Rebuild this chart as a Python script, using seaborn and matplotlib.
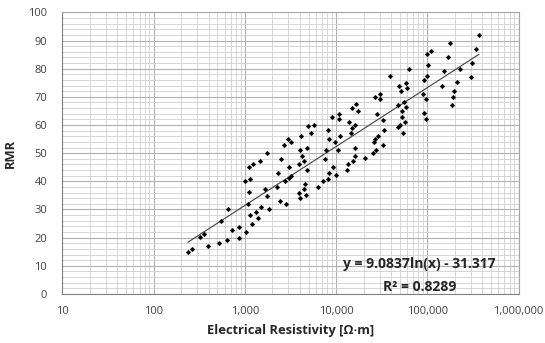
import numpy as np
import pandas as pd
import seaborn as sns
import matplotlib
matplotlib.use('Agg')
import matplotlib.pyplot as plt
from matplotlib.ticker import FixedLocator, LogLocator, MultipleLocator, NullFormatter

# Data: electrical resistivity [ohm-m] vs RMR
resistivity = [237, 264, 320, 357, 392, 521, 633, 553, 649, 724, 857, 871,
               1020, 1190, 1010, 1150, 1110, 1240, 1460, 1740, 1120, 1070,
               1130, 1340, 1400, 1520, 1860, 1650, 1740, 2260, 2300, 2410,
               2510, 2850, 2760, 3030, 3030, 3210, 2690, 3000, 3190, 4160,
               4030, 4270, 4420, 3930, 4850, 4930, 5280, 5740, 4850, 3960,
               4460, 4570, 4060, 4690, 6400, 7200, 8110, 9340, 9920, 7630,
               8380, 7830, 9040, 10700, 10700, 8230, 9750, 10400, 13100, 13600,
               15200, 16200, 16200, 13800, 14600, 16200, 14900, 16600, 17400, 20800,
               25300, 27200, 26300, 26600, 29100, 32500, 33600, 28200, 32500, 27000,
               30200, 30200, 38800, 48200, 52900, 56100, 52500, 56400, 48200, 49700,
               53900, 59000, 48700, 51200, 58600, 59600, 63600, 92200, 100000,
               89900, 97000, 92200, 97800, 102000, 8440, 10900, 14900, 98700, 109000,
               367000, 179000, 343000, 168000, 310000, 153000, 227000, 300000,
               212000, 146000, 197000, 193000, 187000]
rmr = [14.9, 16.0, 20.1, 21.2, 16.9, 18.0, 19.2, 25.9, 30.1, 22.8, 23.9, 20.0,
       21.9, 25.0, 40.2, 40.9, 45.0, 46.0, 47.2, 50.2, 36.1, 31.8,
       28.2, 29.0, 27.1, 30.9, 30.1, 37.2, 34.9, 38.1, 43.0, 32.9,
       48.0, 31.8, 40.2, 41.1, 45.0, 42.0, 53.0, 55.1, 54.0, 56.1,
       51.0, 49.1, 47.2, 46.0, 51.9, 59.6, 57.3, 60.0, 44.0, 36.0,
       37.2, 39.2, 34.1, 35.0, 38.1, 40.1, 40.9, 45.0, 42.1, 48.0,
       54.9, 51.1, 62.9, 64.0, 62.0, 58.1, 54.1, 51.0, 44.0, 46.0,
       47.2, 49.0, 51.9, 61.0, 57.3, 59.9, 66.1, 67.3, 65.1, 48.2,
       50.2, 51.1, 54.1, 55.0, 56.0, 53.0, 58.1, 64.0, 61.9, 70.0,
       71.0, 69.2, 77.3, 67.1, 65.1, 68.1, 62.9, 61.1, 59.4, 60.1,
       57.2, 66.3, 73.9, 72.1, 75.0, 73.1, 80.0, 76.1, 77.3,
       71.1, 69.1, 64.1, 62.0, 81.2, 43.0, 56.1, 59.0, 85.1, 86.2,
       92.0, 89.2, 87.1, 84.0, 82.0, 79.2, 80.0, 77.0,
       75.2, 73.9, 72.1, 69.8, 67.1]

# log trendline shown on the chart
slope = 9.0837
intercept = -31.317
r2 = 0.8289

x_ticks = [10, 100, 1000, 10000, 100000, 1000000]
x_tick_labels = ['10', '100', '1,000', '10,000', '100,000', '1,000,000']
y_ticks = list(range(0, 101, 10))

df = pd.DataFrame({'Resistivity': resistivity, 'RMR': rmr})
xs = np.geomspace(min(resistivity), max(resistivity), 50)
trend = pd.DataFrame({'Resistivity': xs, 'RMR': slope * np.log(xs) + intercept})

sns.set_theme(style='white')
plt.rcParams['font.family'] = ['Open Sans', 'DejaVu Sans']

fig = plt.figure(figsize=(5.45, 3.43), dpi=100)
ax = fig.add_axes([0.1145, 0.143, 0.837, 0.821])

ax.set_xscale('log')
ax.set_xlim(10, 1000000)
ax.set_ylim(0, 100)

sns.lineplot(data=trend, x='Resistivity', y='RMR', ax=ax, color='#404040', linewidth=0.8)
sns.scatterplot(data=df, x='Resistivity', y='RMR', ax=ax, marker='D', s=6,
                color='black', edgecolor='black', linewidth=0.2, zorder=3)

ax.xaxis.set_major_locator(FixedLocator(x_ticks))
ax.set_xticklabels(x_tick_labels)
ax.xaxis.set_minor_locator(LogLocator(base=10, subs=np.arange(2, 10)))
ax.xaxis.set_minor_formatter(NullFormatter())
ax.yaxis.set_major_locator(FixedLocator(y_ticks))
ax.yaxis.set_minor_locator(MultipleLocator(2))

ax.grid(which='major', color='#b0b0b0', linewidth=0.8)
ax.grid(which='minor', color='#d0d0d0', linewidth=0.6)
ax.set_axisbelow(True)

ax.tick_params(which='major', direction='out', length=4, width=0.8, color='#808080',
               labelsize=8, labelcolor='#404040')
ax.tick_params(axis='x', which='major', pad=5)
ax.tick_params(axis='y', which='major', pad=7)
ax.tick_params(which='minor', length=0)
for side in ['left', 'bottom']:
    ax.spines[side].set_color('#808080')
for side in ['top', 'right']:
    ax.spines[side].set_color('#a6a6a6')
for sp in ax.spines.values():
    sp.set_linewidth(0.8)

ax.set_xlabel('Electrical Resistivity [Ω·m]', fontsize=9.3, fontweight='bold', color='#262626', labelpad=5)
ax.set_ylabel('RMR', fontsize=9.3, fontweight='bold', color='#262626', labelpad=8)

ax.text(0.769, 0.231, f'y = {slope}ln(x) - {-intercept}', transform=fig.transFigure,
        ha='center', va='center', fontsize=10, fontweight='bold', color='#262626')
ax.text(0.770, 0.164, f'R² = {r2}', transform=fig.transFigure,
        ha='center', va='center', fontsize=10, fontweight='bold', color='#262626')

fig.savefig('out.png', dpi=100)
